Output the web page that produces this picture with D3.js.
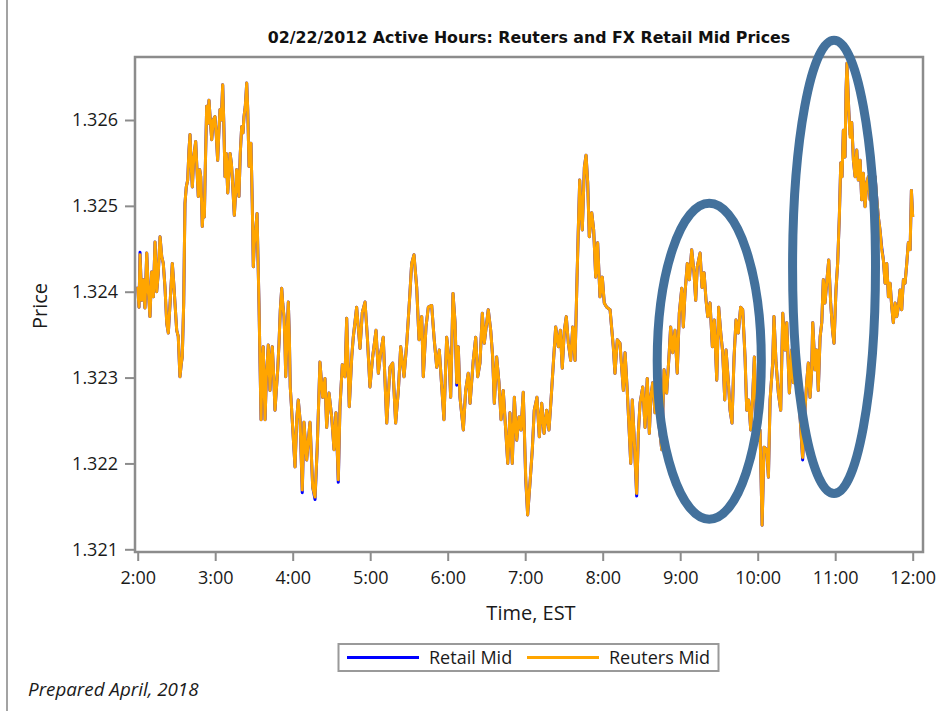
<!DOCTYPE html>
<html>
<head>
<meta charset="utf-8">
<script src="https://cdn.jsdelivr.net/npm/d3@7"></script>
<style>
  body { margin: 0; background: #fff; }
  svg { display: block; font-family: "Open Sans", sans-serif; }
</style>
</head>
<body>
<svg id="chart"></svg>
<script>
const chartTitle = "02/22/2012 Active Hours: Reuters and FX Retail Mid Prices";
const xLabel = "Time, EST";
const yLabel = "Price";
const footNote = "Prepared April, 2018";
const seriesNames = ["Retail Mid", "Reuters Mid"];
const seriesColors = ["#0000ff", "#ffa500"];
const yTicks = [1.321, 1.322, 1.323, 1.324, 1.325, 1.326];
const xTickHours = [2, 3, 4, 5, 6, 7, 8, 9, 10, 11, 12];

// minutes after 2:00 EST
const minutes = [
  0.0,1.0,1.8,3.1,4.3,5.6,7.0,8.2,9.5,10.8,
  12.1,13.4,14.7,15.9,17.3,18.6,19.8,21.1,22.5,23.7,
  25.2,26.8,27.9,28.9,30.2,31.4,32.7,33.8,34.5,35.6,
  36.6,37.6,38.7,39.7,40.5,41.3,42.3,43.4,44.9,45.9,
  46.9,48.0,48.8,49.5,50.0,50.8,51.6,52.3,53.4,54.2,
  55.2,56.2,57.3,58.5,59.8,60.9,61.9,62.9,63.7,64.7,
  65.8,66.6,67.6,68.6,69.7,70.7,71.5,72.5,73.2,74.0,
  74.8,75.9,76.6,77.7,78.4,79.4,80.5,81.5,82.3,83.3,
  84.4,85.2,86.2,86.9,87.7,88.7,89.5,90.3,90.8,91.6,
  92.4,93.1,93.9,94.7,95.5,96.2,97.2,98.0,98.6,99.6,
  100.3,101.1,101.9,102.4,103.2,104.2,105.3,106.3,107.3,108.4,
  109.4,110.4,111.5,112.3,113.3,114.0,114.6,115.6,116.6,117.4,
  118.1,118.9,119.7,
  121.8,123.1,124.3,125.7,127.4,128.7,130.8,132.1,133.4,135.5,
  137.3,139.0,141.1,143.2,145.0,146.3,148.1,150.2,152.0,153.5,
  155.3,156.6,158.4,160.5,161.8,163.8,165.7,166.9,169.5,172.1,
  173.9,176.0,177.8,179.8,181.9,184.5,186.3,188.1,190.1,192.8,
  195.3,197.4,199.7,201.8,203.6,206.2,208.3,210.3,
  212.1,213.9,216.0,217.8,219.9,221.1,223.2,225.0,227.6,229.4,
  231.5,233.5,235.4,237.1,239.2,
  241.1,242.3,244.1,245.7,247.0,248.2,249.5,252.1,253.9,255.9,
  257.3,259.8,261.7,263.2,265.0,266.8,268.3,270.2,271.4,273.3,
  274.8,276.1,277.9,279.7,281.3,283.0,284.9,286.5,288.2,290.0,
  291.6,293.4,295.2,296.8,298.5,300.4,301.9,303.7,305.5,307.0,
  309.1,310.9,312.8,314.6,316.6,318.4,320.0,321.8,323.6,325.6,
  327.2,328.7,330.3,331.8,333.4,335.2,336.8,338.6,339.9,341.1,
  342.2,343.2,344.2,345.8,347.1,348.4,349.6,351.5,353.0,354.6,
  356.1,357.9,359.7,361.2,
  363.1,365.7,368.2,369.5,371.3,373.4,374.7,376.0,377.3,379.0,
  380.6,381.7,382.9,384.2,386.3,387.6,388.9,391.0,392.8,394.5,
  396.1,397.2,398.7,400.5,402.3,403.8,405.7,407.5,409.5,411.3,
  412.6,414.2,416.0,417.7,419.3,421.2,422.4,423.7,425.5,427.1,
  428.9,430.7,432.0,433.2,435.4,436.9,438.5,440.0,441.3,443.1,
  444.9,446.4,448.3,449.8,451.4,452.9,454.5,455.5,457.2,458.6,
  460.1,461.7,463.2,465.0,466.8,468.4,470.2,471.5,473.0,474.6,
  476.1,477.4,478.7,480.5,481.8,483.4,484.9,487.0,488.3,
  489.6,491.6,492.6,494.2,496.0,497.8,499.4,501.2,502.5,504.5,
  506.3,507.6,509.7,511.4,512.8,514.8,516.6,517.9,519.2,520.5,
  521.8,522.6,524.4,525.7,526.9,528.3,529.6,530.8,532.1,533.4,
  535.0,536.5,538.1,539.1,540.6,541.9,543.2,544.3,545.3,546.3,
  547.6,548.4,549.1,550.5,551.5,552.8,554.1,555.4,556.7,557.9,
  559.3,560.5,561.8,563.1,564.5,565.7,567.0,569.0,570.9,572.1,
  573.4,574.7,576.0,577.3,578.6,579.9,581.2,582.5,583.8,585.0,
  586.4,587.6,588.9,590.2,591.5,592.8,594.1,595.4,596.6,598.0,
  599.0,600.0
];

const reutersMid = [
  1.32406,1.32382,1.32443,1.32390,1.32414,1.32381,1.32445,1.32402,1.32371,1.32423,
  1.32394,1.32458,1.32400,1.32421,1.32464,1.32441,1.32433,1.32406,1.32363,1.32352,
  1.32390,1.32433,1.32410,1.32386,1.32355,1.32348,1.32301,1.32317,1.32324,1.32386,
  1.32503,1.32522,1.32530,1.32565,1.32583,1.32550,1.32522,1.32557,1.32575,1.32542,
  1.32511,1.32542,1.32534,1.32503,1.32476,1.32499,1.32487,1.32542,1.32616,1.32596,
  1.32623,1.32600,1.32577,1.32600,1.32604,1.32581,1.32553,1.32588,1.32612,1.32600,
  1.32641,1.32600,1.32534,1.32561,1.32515,1.32542,1.32561,1.32550,1.32534,1.32511,
  1.32489,1.32518,1.32542,1.32526,1.32511,1.32561,1.32592,1.32585,1.32604,1.32616,
  1.32643,1.32612,1.32546,1.32557,1.32573,1.32503,1.32429,1.32456,1.32464,1.32476,
  1.32491,1.32441,1.32386,1.32317,1.32251,1.32309,1.32336,1.32285,1.32251,1.32301,
  1.32317,1.32338,1.32309,1.32285,1.32317,1.32336,1.32301,1.32262,1.32285,1.32309,
  1.32340,1.32379,1.32404,1.32386,1.32371,1.32340,1.32301,1.32348,1.32388,1.32348,
  1.32289,1.32270,1.32249,
  1.32196,1.32251,1.32274,1.32251,1.32169,1.32248,1.32204,1.32227,1.32248,1.32172,
  1.32161,1.32219,1.32318,1.32277,1.32299,1.32242,1.32282,1.32254,1.32216,1.32259,
  1.32181,1.32266,1.32315,1.32301,1.32369,1.32266,1.32324,1.32347,1.32382,1.32334,
  1.32376,1.32388,1.32347,1.32289,1.32324,1.32355,1.32305,1.32329,1.32347,1.32247,
  1.32312,1.32317,1.32247,1.32285,1.32336,1.32301,1.32340,1.32387,
  1.32433,1.32443,1.32405,1.32344,1.32371,1.32301,1.32359,1.32382,1.32384,1.32347,
  1.32312,1.32332,1.32289,1.32251,1.32347,
  1.32320,1.32277,1.32398,1.32364,1.32294,1.32336,1.32277,1.32239,1.32285,1.32305,
  1.32270,1.32320,1.32347,1.32301,1.32317,1.32375,1.32340,1.32364,1.32379,1.32355,
  1.32324,1.32270,1.32324,1.32294,1.32251,1.32285,1.32239,1.32200,1.32259,1.32200,
  1.32277,1.32227,1.32254,1.32239,1.32283,1.32184,1.32140,1.32177,1.32216,1.32262,
  1.32277,1.32231,1.32270,1.32235,1.32262,1.32239,1.32274,1.32317,1.32359,1.32336,
  1.32355,1.32311,1.32355,1.32371,1.32340,1.32320,1.32359,1.32320,1.32402,1.32472,
  1.32530,1.32495,1.32472,1.32545,1.32559,1.32527,1.32464,1.32492,1.32472,1.32417,
  1.32457,1.32394,1.32417,1.32387,
  1.32382,1.32379,1.32336,1.32305,1.32344,1.32340,1.32312,1.32285,1.32329,1.32285,
  1.32235,1.32200,1.32274,1.32235,1.32165,1.32235,1.32270,1.32289,1.32242,1.32299,
  1.32235,1.32277,1.32294,1.32259,1.32274,1.32242,1.32216,1.32309,1.32282,1.32324,
  1.32359,1.32329,1.32355,1.32305,1.32375,1.32404,1.32359,1.32398,1.32433,1.32414,
  1.32449,1.32422,1.32390,1.32429,1.32445,1.32405,1.32422,1.32390,1.32371,1.32387,
  1.32336,1.32367,1.32297,1.32382,1.32352,1.32329,1.32274,1.32332,1.32297,1.32262,
  1.32247,1.32324,1.32367,1.32352,1.32382,1.32379,1.32324,1.32262,1.32274,1.32239,
  1.32277,1.32324,1.32259,1.32227,1.32239,1.32128,1.32219,1.32216,1.32184,
  1.32274,1.32317,1.32371,1.32317,1.32282,1.32262,1.32375,1.32332,1.32364,1.32282,
  1.32332,1.32294,1.32332,1.32324,1.32254,1.32207,1.32262,1.32294,1.32317,1.32277,
  1.32309,1.32364,1.32309,1.32332,1.32285,1.32347,1.32364,1.32414,1.32387,1.32410,
  1.32437,1.32387,1.32352,1.32340,1.32402,1.32433,1.32487,1.32550,1.32534,1.32588,
  1.32557,1.32635,1.32666,1.32612,1.32580,1.32597,1.32553,1.32534,1.32565,1.32530,
  1.32553,1.32507,1.32538,1.32499,1.32527,1.32534,1.32507,1.32527,1.32534,1.32510,
  1.32487,1.32472,1.32449,1.32437,1.32410,1.32433,1.32394,1.32410,1.32382,1.32364,
  1.32387,1.32371,1.32382,1.32402,1.32379,1.32414,1.32410,1.32433,1.32457,1.32449,
  1.32518,1.32487
];

// retail mid follows reuters mid except for these ticks [minute, price]
const retailOverrides = [
  [1.8, 1.32446], [50.8, 1.32503], [127.4, 1.32166], [137.3, 1.32158],
  [155.3, 1.32178], [247.0, 1.32291], [300.4, 1.32181], [386.3, 1.32162],
  [514.8, 1.32204], [551.5, 1.32583], [576.0, 1.32452]
];

// highlighted regions: centre [minute, price] and half-widths [minutes, price]
const highlightCentres = [[442.5, 1.32319], [539.1, 1.32429]];
const highlightRadii = [[40.3, 0.00184], [32.1, 0.00264]];

const W = 946, H = 711;
const frame = {left: 135, top: 57, right: 923, bottom: 552};

const svg = d3.select("#chart").attr("width", W).attr("height", H);

const base = new Date(2012, 1, 22, 2, 0);
const toDate = m => new Date(base.getTime() + m * 60000);

const x = d3.scaleTime()
    .domain([toDate(0), toDate(600)])
    .range([frame.left + 2.7, frame.right - 10.3]);
const y = d3.scaleLinear()
    .domain([1.321, 1.326])
    .range([549.3, 120]);

const n = Math.min(minutes.length, reutersMid.length);
const reuters = d3.range(n).map(i => ({date: toDate(minutes[i]), value: reutersMid[i]}));
const retail = d3.range(n).map(i => {
    const o = retailOverrides.find(r => r[0] === minutes[i]);
    return {date: toDate(minutes[i]), value: o ? o[1] : reutersMid[i]};
});

// outer page border on the left
svg.append("line")
    .attr("x1", 7).attr("x2", 7).attr("y1", 0).attr("y2", H)
    .attr("stroke", "#a3a3a3").attr("stroke-width", 2);

svg.append("text")
    .attr("x", 529).attr("y", 43)
    .attr("text-anchor", "middle")
    .style("font-family", "'DejaVu Sans', sans-serif")
    .style("font-size", "15.8px").style("font-weight", 700).attr("fill", "#111")
    .text(chartTitle);

svg.append("clipPath").attr("id", "plotclip")
    .append("rect")
    .attr("x", frame.left).attr("y", frame.top)
    .attr("width", frame.right - frame.left).attr("height", frame.bottom - frame.top);

const line = d3.line()
    .x(d => x(d.date))
    .y(d => y(d.value));

const plot = svg.append("g").attr("clip-path", "url(#plotclip)");
plot.append("path")
    .datum(retail)
    .attr("d", line)
    .attr("fill", "none")
    .attr("stroke", seriesColors[0])
    .attr("stroke-width", 3)
    .attr("stroke-linejoin", "round");
plot.append("path")
    .datum(reuters)
    .attr("d", line)
    .attr("fill", "none")
    .attr("stroke", seriesColors[1])
    .attr("stroke-width", 3)
    .attr("stroke-linejoin", "round");

// axes
const yAxis = svg.append("g")
    .attr("transform", `translate(${frame.left},0)`)
    .call(d3.axisLeft(y).tickValues(yTicks).tickFormat(d3.format(".3f")).tickSize(10).tickPadding(7));
const xAxis = svg.append("g")
    .attr("transform", `translate(0,${frame.bottom})`)
    .call(d3.axisBottom(x).tickValues(xTickHours.map(h => toDate((h - 2) * 60)))
        .tickFormat(d3.timeFormat("%-H:%M")).tickSize(9).tickPadding(10));
[yAxis, xAxis].forEach(g => {
    g.select(".domain").remove();
    g.selectAll(".tick line").attr("stroke", "#8c8c8c").attr("stroke-width", 2);
    g.selectAll(".tick text").attr("fill", "#1a1a1a")
        .style("font-size", "18px").style("font-family", "'Open Sans', sans-serif");
});

svg.append("rect")
    .attr("x", frame.left).attr("y", frame.top)
    .attr("width", frame.right - frame.left).attr("height", frame.bottom - frame.top)
    .attr("fill", "none").attr("stroke", "#8c8c8c").attr("stroke-width", 2.5);

// highlight ellipses
svg.append("g").selectAll("ellipse")
    .data(highlightCentres)
    .join("ellipse")
        .attr("cx", d => x(toDate(d[0])))
        .attr("cy", d => y(d[1]))
        .attr("rx", (d, i) => x(toDate(d[0] + highlightRadii[i][0])) - x(toDate(d[0])))
        .attr("ry", (d, i) => y(d[1] - highlightRadii[i][1]) - y(d[1]))
        .attr("fill", "none")
        .attr("stroke", "#43719c")
        .attr("stroke-width", 9);

svg.append("text")
    .attr("transform", "translate(46.5,306) rotate(-90)")
    .attr("text-anchor", "middle")
    .style("font-size", "20px").attr("fill", "#1a1a1a")
    .text(yLabel);

svg.append("text")
    .attr("x", 531).attr("y", 620)
    .attr("text-anchor", "middle")
    .style("font-size", "20px").attr("fill", "#1a1a1a")
    .text(xLabel);

// legend
const legend = svg.append("g");
legend.append("rect")
    .attr("x", 338.5).attr("y", 644).attr("width", 380).attr("height", 27)
    .attr("fill", "#fff").attr("stroke", "#9a9a9a").attr("stroke-width", 2);
const legendX = [347, 527];
seriesNames.forEach((name, i) => {
    legend.append("line")
        .attr("x1", legendX[i]).attr("x2", legendX[i] + 72)
        .attr("y1", 657.5).attr("y2", 657.5)
        .attr("stroke", seriesColors[i]).attr("stroke-width", 3);
    legend.append("text")
        .attr("x", legendX[i] + 82).attr("y", 664)
        .style("font-size", "18px").attr("fill", "#1a1a1a")
        .text(name);
});

svg.append("text")
    .attr("x", 28).attr("y", 695.5)
    .style("font-size", "18.8px").style("font-style", "italic").attr("fill", "#1a1a1a")
    .text(footNote);
</script>
</body>
</html>
